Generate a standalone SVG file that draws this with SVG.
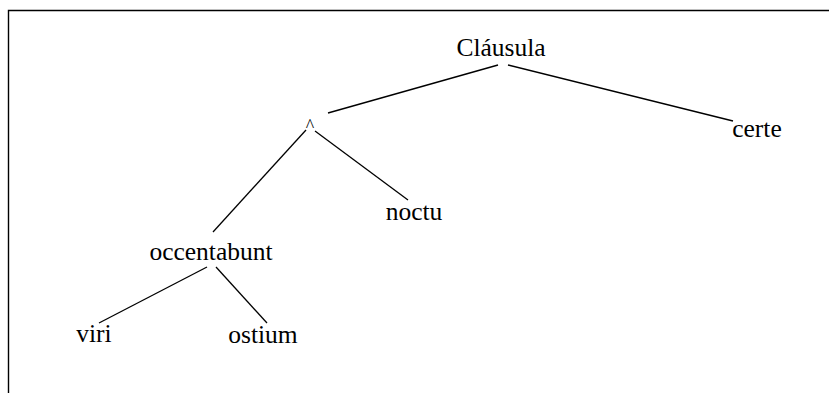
<svg xmlns="http://www.w3.org/2000/svg" width="829" height="393" viewBox="0 0 829 393">
<style>
.t{font-family:"Liberation Serif","Times New Roman",serif;font-size:25.5px;fill:#000;text-anchor:middle}
.e{stroke:#000;stroke-width:1.3;fill:none}
</style>
<rect x="0" y="0" width="829" height="393" fill="#fff"/>
<path d="M8.5,393 V10.5 H829" stroke="#000" stroke-width="1.4" fill="none"/>
<g id="connectors">
<line class="e" x1="498" y1="65" x2="328" y2="113"/>
<line class="e" x1="508" y1="65" x2="733" y2="121"/>
<line class="e" x1="306" y1="130" x2="213" y2="232"/>
<line class="e" x1="315" y1="131" x2="408" y2="200"/>
<line class="e" x1="207" y1="267" x2="99" y2="323"/>
<line class="e" x1="216" y1="267" x2="267" y2="323"/>
</g>
<g id="n-clausula"><text class="t" x="501" y="56">Cláusula</text></g>
<g id="n-caret"><text class="t" x="310" y="132" style="font-size:18px">^</text></g>
<g id="n-certe"><text class="t" x="757" y="137">certe</text></g>
<g id="n-noctu"><text class="t" x="414" y="220">noctu</text></g>
<g id="n-occentabunt"><text class="t" x="211" y="260">occentabunt</text></g>
<g id="n-viri"><text class="t" x="94" y="342">viri</text></g>
<g id="n-ostium"><text class="t" x="263" y="343">ostium</text></g>
</svg>
